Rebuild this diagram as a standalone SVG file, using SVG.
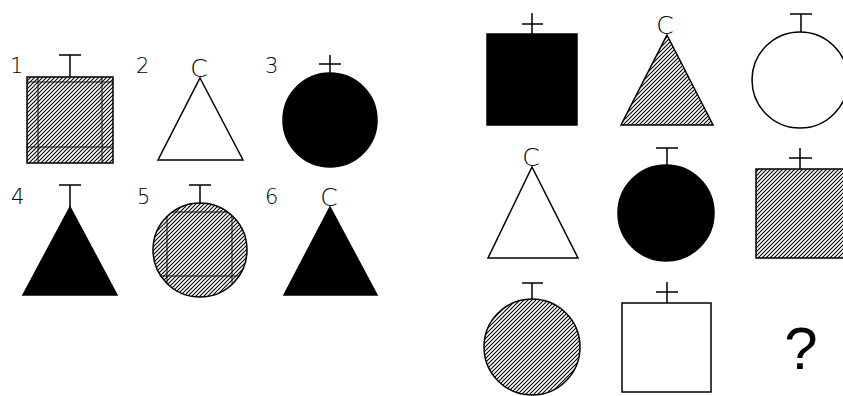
<svg xmlns="http://www.w3.org/2000/svg" width="843" height="396" viewBox="0 0 843 396">
<style>
.o{stroke:#000;stroke-width:1.5;}
.h{fill:url(#hatch);}
.w{fill:#fff;}
.b{fill:#000;}
.s{stroke:#000;stroke-width:1.5;fill:none;}
.in{stroke:#000;stroke-width:0.9;fill:none;}
.n{font-family:"DejaVu Sans",sans-serif;font-size:21px;fill:#000;font-weight:200;}
.c{font-family:"DejaVu Sans",sans-serif;font-size:25px;fill:#000;text-anchor:middle;font-weight:200;}
.q{font-family:"Liberation Sans",Arial,sans-serif;font-size:60px;fill:#000;text-anchor:middle;}
</style>
<defs>
<pattern id="hatch" patternUnits="userSpaceOnUse" width="4" height="4">
<rect width="4" height="4" fill="#fff"/>
<path d="M-1,5 L5,-1 M-1,1 L1,-1 M3,5 L5,3" stroke="#000" stroke-width="1.1"/>
</pattern>
<clipPath id="c5"><circle cx="200" cy="250" r="47"/></clipPath>
</defs>

<g id="labels">
<text class="n" x="10" y="73">1</text>
<text class="n" x="136" y="73">2</text>
<text class="n" x="265" y="73">3</text>
<text class="n" x="11" y="204">4</text>
<text class="n" x="137" y="204">5</text>
<text class="n" x="265" y="204">6</text>
</g>

<g id="fig1">
<rect class="o h" x="27" y="77" width="86" height="86"/>
<path class="in" d="M38,77 V163 M102,77 V163 M27,82 H113 M27,147 H113"/>
<path class="s" d="M59,55 H81 M70,55 V77"/>
</g>

<g id="fig2">
<polygon class="o w" points="200,78 243,160 158,160"/>
<text class="c" x="199" y="77">C</text>
</g>

<g id="fig3">
<circle class="o b" cx="330" cy="120" r="47"/>
<path class="s" d="M319,64 H341 M330,55 V73"/>
</g>

<g id="fig4">
<polygon class="o b" points="70,207 117,295 23,295"/>
<path class="s" d="M59,185 H81 M70,185 V207"/>
</g>

<g id="fig5">
<circle class="o h" cx="200" cy="250" r="47"/>
<path class="in" clip-path="url(#c5)" d="M167,200 V300 M232,200 V300 M150,212 H250 M150,276 H250"/>
<path class="s" d="M189,185 H211 M200,185 V203"/>
</g>

<g id="fig6">
<polygon class="o b" points="330,207 377,295 284,295"/>
<text class="c" x="329" y="206">C</text>
</g>

<g id="r1c1">
<rect class="o b" x="487" y="34" width="90" height="91"/>
<path class="s" d="M522,24 H543 M532,13 V34"/>
</g>

<g id="r1c2">
<polygon class="o h" points="667,35 713,125 621,125"/>
<text class="c" x="665" y="34">C</text>
</g>

<g id="r1c3">
<circle class="o w" cx="800" cy="80" r="48"/>
<path class="s" d="M790,14 H812 M801,14 V32"/>
</g>

<g id="r2c1">
<polygon class="o w" points="532,167 578,258 488,258"/>
<text class="c" x="531" y="166">C</text>
</g>

<g id="r2c2">
<circle class="o b" cx="666" cy="213" r="48"/>
<path class="s" d="M656,148 H678 M667,148 V165"/>
</g>

<g id="r2c3">
<rect class="o h" x="756" y="169" width="90" height="89"/>
<path class="s" d="M789,158 H812 M800,148 V169"/>
</g>

<g id="r3c1">
<circle class="o h" cx="532" cy="347" r="48"/>
<path class="s" d="M522,283 H543 M532,283 V299"/>
</g>

<g id="r3c2">
<rect class="o w" x="622" y="303" width="89" height="89"/>
<path class="s" d="M656,292 H678 M667,282 V303"/>
</g>

<g id="r3c3">
<text class="q" x="801" y="369">?</text>
</g>
</svg>
